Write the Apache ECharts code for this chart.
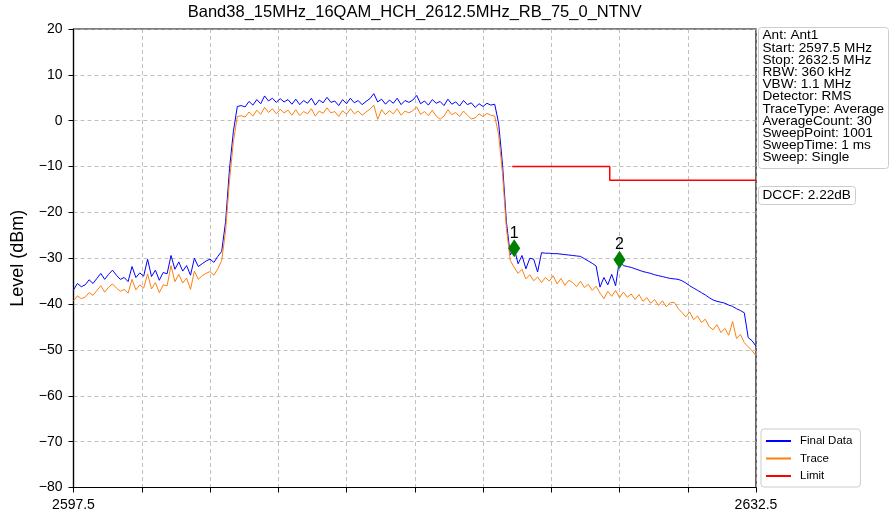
<!DOCTYPE html>
<html>
<head>
<meta charset="utf-8">
<script src="https://cdn.jsdelivr.net/npm/echarts@6/dist/echarts.min.js"></script>
<style>
html,body{margin:0;padding:0;background:#fff;}
#chart{width:891px;height:519px;}
</style>
</head>
<body>
<div id="chart"></div>
<script>
// ---- data ----
const chartTitle = 'Band38_15MHz_16QAM_HCH_2612.5MHz_RB_75_0_NTNV';
const freqStart = 2597.5;   // MHz
const freqStop = 2632.5;    // MHz
const freqStep = 0.2;       // MHz between read points
const xTickStep = 3.5;
const yTicks = [-80, -70, -60, -50, -40, -30, -20, -10, 0, 10, 20];

const finalData = [
  -36.9,-35.5,-36.2,-35.8,-34.7,-35.5,-34.4,-33.3,-34.6,-33.5,
  -32.6,-33.7,-34.6,-34.2,-35.1,-31.8,-34.2,-33.2,-33.9,-30.2,
  -34.0,-32.6,-34.8,-33.1,-33.4,-29.4,-32.4,-30.8,-32.8,-31.6,
  -33.7,-30.0,-31.8,-31.2,-30.6,-30.2,-30.9,-29.6,-28.5,-22.0,
  -10.5,-2.3,3.1,3.3,3.0,4.2,3.4,4.6,3.7,5.4,
  4.3,4.9,4.0,4.8,4.1,4.6,3.6,4.7,3.5,4.4,
  3.8,4.9,3.4,4.5,3.9,5.1,4.0,4.3,3.3,4.6,
  3.7,4.9,3.9,4.4,3.5,4.2,4.8,5.9,4.1,4.7,
  3.6,4.5,3.8,4.9,3.5,4.4,4.0,4.5,5.5,3.7,
  4.3,3.4,4.6,3.8,4.2,3.3,4.7,3.6,4.1,3.2,
  4.4,3.5,3.9,2.9,3.7,3.1,3.8,3.4,3.6,-0.5,
  -9.5,-22.0,-29.3,-27.8,-31.2,-29.4,-32.3,-30.0,-30.2,-33.0,
  -28.8,-28.9,-28.9,-29.0,-29.0,-29.1,-29.2,-29.3,-29.4,-29.5,
  -29.6,-30.1,-30.6,-31.1,-31.7,-36.3,-34.2,-35.8,-33.5,-36.0,
  -30.3,-31.6,-31.8,-32.0,-32.3,-32.6,-32.9,-33.1,-33.3,-33.6,
  -33.8,-34.0,-34.2,-34.4,-34.5,-34.6,-34.9,-35.4,-36.0,-36.5,
  -37.0,-37.5,-38.0,-38.6,-39.1,-39.4,-39.6,-39.8,-40.2,-40.5,
  -41.0,-41.4,-41.9,-47.3,-48.0,-49.2
];

const traceData = [
  -39.3,-38.2,-38.8,-38.5,-37.5,-38.1,-37.0,-36.0,-37.4,-36.3,
  -35.6,-36.5,-37.2,-36.8,-37.6,-34.6,-36.9,-35.8,-36.5,-33.4,
  -36.7,-35.3,-37.5,-35.8,-36.0,-31.6,-35.1,-33.5,-35.4,-34.3,
  -36.8,-32.8,-34.6,-33.8,-33.3,-32.9,-33.7,-32.3,-30.5,-24.0,
  -13.0,-4.6,0.9,1.1,0.8,1.9,1.0,2.3,1.4,2.9,
  1.8,2.6,1.5,2.5,1.7,2.3,1.2,2.4,1.1,2.0,
  1.5,2.6,1.0,2.1,1.6,2.8,1.7,2.0,0.9,2.2,
  1.4,2.6,1.5,2.1,1.2,1.9,2.5,3.4,0.3,2.4,
  1.3,2.2,1.5,2.6,1.2,2.1,1.7,2.2,3.0,1.4,
  2.0,1.1,2.3,1.0,0.3,1.0,2.4,1.3,1.8,0.9,
  2.1,1.2,0.4,0.6,1.5,0.9,1.6,1.2,1.0,-3.0,
  -11.5,-23.5,-30.5,-32.0,-33.3,-32.4,-34.5,-33.6,-34.9,-34.1,
  -35.3,-34.2,-35.0,-33.8,-35.6,-34.4,-35.9,-34.8,-35.3,-36.2,
  -35.0,-36.4,-35.7,-37.0,-36.1,-37.6,-38.8,-37.2,-38.3,-37.0,
  -38.6,-37.4,-38.5,-37.8,-39.0,-37.9,-39.4,-38.6,-39.8,-39.0,
  -40.3,-39.3,-40.6,-39.7,-39.6,-40.9,-41.8,-42.8,-41.7,-43.4,
  -42.6,-44.0,-43.3,-44.9,-45.6,-44.5,-46.2,-45.3,-46.8,-43.8,
  -47.5,-46.6,-48.4,-49.3,-50.2,-51.2
];

const limitFreq = [2620.0, 2625.0, 2625.0, 2632.5];
const limitLevel = [-10, -10, -13, -13];

const markerNames = ['1', '2'];
const markerFreq = [2620.1, 2625.5];
const markerLevel = [-27.8, -30.3];

const infoLines = [
  'Ant: Ant1', 'Start: 2597.5 MHz', 'Stop: 2632.5 MHz', 'RBW: 360 kHz',
  'VBW: 1.1 MHz', 'Detector: RMS', 'TraceType: Average', 'AverageCount: 30',
  'SweepPoint: 1001', 'SweepTime: 1 ms', 'Sweep: Single'
];
const dccfText = 'DCCF: 2.22dB';

// ---- build ----
const FONT = '"Liberation Sans", Arial, sans-serif';
const toPairs = (arr) => arr.map((v, i) => [freqStart + i * freqStep, v]);
const fmtNum = (v) => (v < 0 ? '\u2212' + Math.abs(v) : String(v));

const chart = echarts.init(document.getElementById('chart'), null, {renderer: 'canvas'});

const gridLeft = 73.5, gridRight = 135, gridTop = 29, gridBottom = 31.5;
const plotCenterX = gridLeft + (891 - gridLeft - gridRight) / 2;

const option = {
  animation: false,
  backgroundColor: '#fff',
  textStyle: {fontFamily: FONT},
  grid: {
    left: gridLeft, right: gridRight, top: gridTop, bottom: gridBottom,
    show: true, borderColor: '#000', borderWidth: 1.2, backgroundColor: 'transparent'
  },
  legend: {
    orient: 'vertical',
    left: 761, top: 429,
    width: 96,
    padding: [6, 8, 5, 5],
    itemGap: 5.5,
    itemWidth: 25, itemHeight: 2,
    borderColor: '#cccccc', borderWidth: 1, borderRadius: 3,
    backgroundColor: '#fff',
    textStyle: {fontFamily: FONT, fontSize: 11.5, color: '#000', padding: [0, 0, 0, 4]},
    data: [
      {name: 'Final Data', icon: 'rect'},
      {name: 'Trace', icon: 'rect'},
      {name: 'Limit', icon: 'rect'}
    ]
  },
  xAxis: {
    type: 'value',
    min: freqStart, max: freqStop, interval: xTickStep,
    axisLine: {show: true, onZero: false, lineStyle: {color: '#000', width: 1.2}},
    axisTick: {show: true, inside: false, length: 5, lineStyle: {color: '#000', width: 1}},
    axisLabel: {
      fontFamily: FONT, fontSize: 14, color: '#000', margin: 11,
      showMinLabel: true, showMaxLabel: true,
      formatter: (v) => (Math.abs(v - freqStart) < 1e-6 || Math.abs(v - freqStop) < 1e-6) ? v.toFixed(1) : ''
    },
    splitLine: {show: true, lineStyle: {color: '#b0b0b0', type: [4, 3], width: 0.8}}
  },
  yAxis: {
    type: 'value',
    min: yTicks[0], max: yTicks[yTicks.length - 1], interval: 10,
    name: 'Level (dBm)',
    nameLocation: 'middle',
    nameGap: 46,
    nameTextStyle: {fontFamily: FONT, fontSize: 18, color: '#000'},
    axisLine: {show: true, onZero: false, lineStyle: {color: '#000', width: 1.2}},
    axisTick: {show: true, inside: false, length: 5, lineStyle: {color: '#000', width: 1}},
    axisLabel: {fontFamily: FONT, fontSize: 14, color: '#000', margin: 11, formatter: fmtNum},
    splitLine: {show: true, lineStyle: {color: '#b0b0b0', type: [4, 3], width: 0.8}}
  },
  series: [
    {
      name: 'Trace', type: 'line', data: toPairs(traceData),
      showSymbol: false, symbol: 'none', z: 3,
      itemStyle: {color: '#ff7f0e'},
      lineStyle: {color: '#ff7f0e', width: 1}
    },
    {
      name: 'Final Data', type: 'line', data: toPairs(finalData),
      showSymbol: false, symbol: 'none', z: 2,
      itemStyle: {color: '#0000ff'},
      lineStyle: {color: '#0000ff', width: 1}
    },
    {
      name: 'Limit', type: 'line',
      data: limitFreq.map((f, i) => [f, limitLevel[i]]),
      showSymbol: false, symbol: 'none', z: 4,
      itemStyle: {color: '#ff0000'},
      lineStyle: {color: '#ff0000', width: 1.5}
    },
    {
      name: 'Markers', type: 'scatter', z: 6,
      data: markerFreq.map((f, i) => ({value: [f, markerLevel[i]], name: markerNames[i]})),
      symbol: 'diamond', symbolSize: [12, 18],
      itemStyle: {color: '#008000', opacity: 1},
      emphasis: {disabled: true},
      label: {
        show: true, position: 'top', distance: -2,
        formatter: (p) => p.name,
        fontFamily: FONT, fontSize: 16, color: '#000'
      }
    }
  ],
  graphic: [
    {
      type: 'text', x: plotCenterX, y: 4,
      style: {text: chartTitle, fontFamily: FONT, fontSize: 16.5, fill: '#000', textAlign: 'center', textVerticalAlign: 'top'}
    },
    {
      type: 'group', left: 758, top: 27,
      children: [
        {type: 'rect', shape: {x: 0, y: 0, width: 130, height: 141, r: 3},
         style: {fill: '#fff', stroke: '#cccccc', lineWidth: 1}},
        {type: 'text', x: 4, y: 2,
         style: {text: infoLines.join('\n'), fontFamily: FONT, fontSize: 13.6, lineHeight: 12.2, fill: '#000'}}
      ]
    },
    {
      type: 'group', left: 758, top: 186,
      children: [
        {type: 'rect', shape: {x: 0, y: 0, width: 97, height: 18, r: 3},
         style: {fill: '#fff', stroke: '#cccccc', lineWidth: 1}},
        {type: 'text', x: 4, y: 2,
         style: {text: dccfText, fontFamily: FONT, fontSize: 13.6, fill: '#000'}}
      ]
    }
  ]
};
chart.setOption(option);
</script>
</body>
</html>
